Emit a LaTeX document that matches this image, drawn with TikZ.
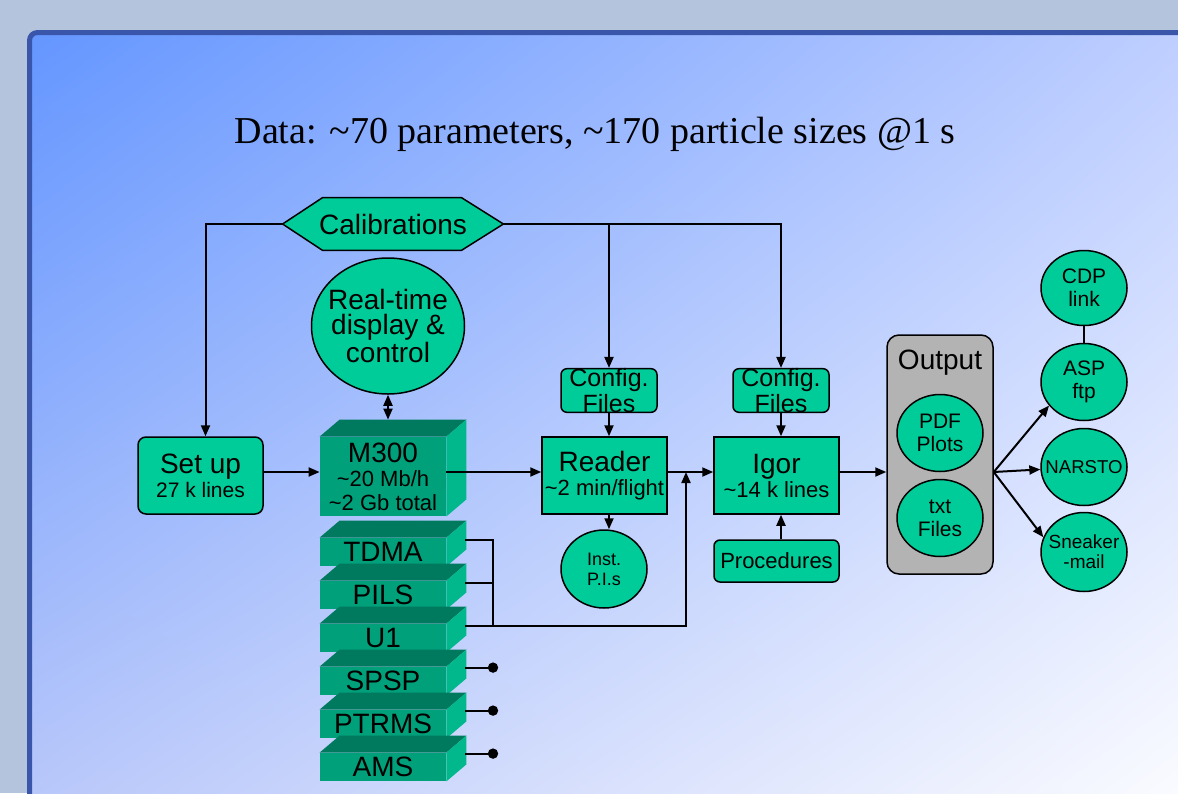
\documentclass[tikz,border=0pt]{standalone}
\usepackage{fontspec}
\setmainfont{Liberation Sans}
\newfontfamily\serifface{Liberation Serif}
\usetikzlibrary{arrows.meta,shapes.geometric,calc,shadings}

\definecolor{pagebg}{RGB}{180,196,220}
\definecolor{panelrim}{RGB}{58,86,170}
\definecolor{panelA}{RGB}{100,150,255}
\definecolor{panelB}{RGB}{190,206,255}
\definecolor{panelC}{RGB}{184,199,250}
\definecolor{panelD}{RGB}{250,251,255}
\definecolor{mint}{RGB}{0,204,153}
\definecolor{crateFront}{RGB}{0,160,122}
\definecolor{crateTop}{RGB}{0,122,94}
\definecolor{crateSide}{RGB}{0,184,140}
\definecolor{trayGrey}{RGB}{179,179,179}

% type sizes
\newcommand\szA{\fontsize{14}{12}\selectfont}
\newcommand\szAloose{\fontsize{14}{12.6}\selectfont}
\newcommand\szB{\fontsize{11}{12}\selectfont}
\newcommand\szC{\fontsize{10.5}{12}\selectfont}
\newcommand\szCfg{\fontsize{12.5}{11.5}\selectfont}
\newcommand\szSmall{\fontsize{10.5}{11.5}\selectfont}
\newcommand\szTiny{\fontsize{9.3}{10}\selectfont}

% top and side faces of a block whose front face is node #1
\newcommand\crateFaces[1]{%
  \fill[crateTop] (#1.north west) -- ++(20,-17) -- ($(#1.north east)+(20,-17)$) -- (#1.north east) -- cycle;
  \fill[crateSide] (#1.north east) -- ++(20,-17) -- ($(#1.south east)+(20,-17)$) -- (#1.south east) -- cycle;}

\begin{document}
\begin{tikzpicture}[x=0.5pt,y=-0.5pt,
  conn/.style={line width=1pt},
  arr/.style={conn,-{Triangle[length=5.5pt,width=4.5pt]}},
  box/.style={draw, line width=0.75pt, fill=mint, inner sep=0pt, align=center},
  rbox/.style={box, rounded corners=4pt},
  disc/.style={box, ellipse},
  crate/.style={fill=crateFront, inner sep=0pt, align=center, minimum width=63pt},
  lbl/.style={align=center, inner sep=0pt}
]
\useasboundingbox (0,0) rectangle (1178,793);
\clip (0,0) rectangle (1178,793);

% backdrop and slide panel
\fill[pagebg] (0,0) rectangle (1178,793);
\shade[upper left=panelA, upper right=panelB, lower left=panelC, lower right=panelD]
  (30,33) rectangle (1178,793);
\draw[panelrim, line width=2.5pt, rounded corners=4pt] (29.5,32.5) rectangle (1210,830);

% heading
\node[font=\serifface\fontsize{19}{22}\selectfont, anchor=base, inner sep=0pt] (headline) at (595,143)
  {Data: \textasciitilde70 parameters, \textasciitilde170 particle sizes @1 s};

% calibrations hexagon
\node[minimum width=110pt, minimum height=26pt, inner sep=0pt] (cal) at (393,224) {};
\filldraw[fill=mint, line width=0.75pt] (cal.west) -- ($(cal.north west)+(40,0)$)
  -- ($(cal.north east)+(-42,0)$) -- (cal.east) -- ($(cal.south east)+(-42,0)$)
  -- ($(cal.south west)+(40,0)$) -- cycle;
\node[lbl, font=\szA] (cal-t) at (cal) {Calibrations};

% real-time display
\node[disc, minimum width=76.5pt, minimum height=68pt] (rt) at (388,326) {};
\node[lbl, font=\szAloose] (rt-t) at (rt) {Real-time\\display \&\\control};

% set up
\node[rbox, minimum width=62.5pt, minimum height=38.5pt, font=\szA] (setup) at (200.5,475.5)
  {Set up\\\szC 27 k lines};
\coordinate (setup-in) at ($(setup.north)+(5,0)$);

% M300 block
\node[crate, minimum height=39.5pt, font=\szA] (m300) at (383,476.5)
  {M300\\\szB\textasciitilde20 Mb/h\\\szB\textasciitilde2 Gb total};
\crateFaces{m300}
\coordinate (m300top) at ($(m300.north)+(5,-17)$);

% instrument stack
\foreach \nm/\lab/\yy in {tdma/TDMA/552,pils/PILS/595,u1/U1/638,spsp/SPSP/681,ptrms/PTRMS/724,ams/AMS/767}{
  \node[crate, minimum height=14pt, font=\szA] (\nm) at (383,\yy) {\lab};
  \crateFaces{\nm}
}

% reader and igor
\node[box, minimum width=62.5pt, minimum height=38.5pt, font=\szA] (reader) at (604.5,475.5)
  {Reader\\\szB\textasciitilde2 min/flight};
\node[box, minimum width=62.5pt, minimum height=38.5pt, font=\szA] (igor) at (776.5,475.5)
  {Igor\\\szB\textasciitilde14 k lines};
\node[box, rounded corners=3pt, minimum width=48pt, minimum height=21.5pt, font=\szCfg] (cfg1) at (609,390.5)
  {Config.\\Files};
\node[box, rounded corners=3pt, minimum width=48pt, minimum height=21.5pt, font=\szCfg] (cfg2) at (781,390.5)
  {Config.\\Files};
\node[rbox, rounded corners=3pt, minimum width=62.5pt, minimum height=21pt, font=\szB] (proc) at (776.5,561)
  {Procedures};
\node[disc, minimum width=43pt, minimum height=39pt] (inst) at (604,569) {};
\node[lbl, font=\fontsize{9}{10}\selectfont] (inst-t) at (inst) {Inst.\\P.I.s};

% output tray
\node[draw, fill=trayGrey, rounded corners=6pt, line width=0.75pt, minimum width=53pt,
  minimum height=119.5pt, inner sep=0pt] (out) at (940,454.5) {};
\node[lbl, font=\szA, anchor=base] (out-t) at (940,369) {Output};
\node[disc, minimum width=43pt, minimum height=38.5pt] (pdf) at (940,433) {};
\node[lbl, font=\szSmall] (pdf-t) at (pdf) {PDF\\Plots};
\node[disc, minimum width=43pt, minimum height=38.5pt] (txt) at (940,518) {};
\node[lbl, font=\szSmall] (txt-t) at (txt) {txt\\Files};

% destinations
\node[disc, minimum width=43pt, minimum height=37.5pt] (cdp) at (1084,288) {};
\node[lbl, font=\szSmall] (cdp-t) at (cdp) {CDP\\link};
\node[disc, minimum width=43pt, minimum height=38.5pt] (asp) at (1084,382) {};
\node[lbl, font=\szSmall] (asp-t) at (asp) {ASP\\ftp};
\node[disc, minimum width=43pt, minimum height=38.5pt] (narsto) at (1084,467) {};
\node[lbl, font=\szTiny] (narsto-t) at (narsto) {NARSTO};
\node[disc, minimum width=43pt, minimum height=39.5pt] (snk) at (1084,552) {};
\node[lbl, font=\fontsize{9.5}{10}\selectfont] (snk-t) at (snk) {Sneaker\\-mail};

% connectors
\coordinate (axis) at (0,472);
\coordinate (bus) at (493,0);
\coordinate (riser) at (686,0);

\draw[arr] (cal.west) -| (setup-in);
\draw[arr] (cal.east) -| (cfg2.north);
\draw[arr] (cfg1.north |- cal.east) -- (cfg1.north);
\draw[conn,{Triangle[length=5.5pt,width=4.5pt]}-{Triangle[length=5.5pt,width=4.5pt]}]
  (rt.south) -- (rt.south |- m300top);

\draw[arr] (setup.east |- axis) -- (m300.west |- axis);
\draw[arr] (m300.east |- axis) -- (reader.west |- axis);
\draw[arr] (reader.east |- axis) -- (igor.west |- axis);
\draw[arr] (igor.east |- axis) -- (out.west |- axis);

\draw[arr] (cfg1.south) -- (cfg1.south |- reader.north);
\draw[arr] (cfg1.south |- reader.south) -- (cfg1.south |- inst.north);
\draw[arr] (cfg2.south) -- (cfg2.south |- igor.north);
\draw[arr] (cfg2.south |- proc.north) -- (cfg2.south |- igor.south);

% instrument links
\coordinate (tdmaO) at ($(tdma.north east)+(19,2)$);
\coordinate (pilsO) at ($(pils.north east)+(19,2)$);
\coordinate (u1O) at ($(u1.north east)+(19,2)$);
\draw[conn] (tdmaO) -| (bus |- u1O);
\draw[conn] (pilsO) -- (bus |- pilsO);
\draw[arr] (u1O) -| (riser |- axis);
\foreach \nm in {spsp,ptrms,ams}{
  \coordinate (\nm-from) at ($(\nm.north east)+(19,1)$);
  \draw[conn] (\nm-from) -- (bus |- \nm-from) coordinate (\nm-dot);
  \fill (\nm-dot) circle[radius=2.6pt];
}

% distribution
\coordinate (fan) at (out.east |- axis);
\draw[arr] (fan) -- (asp.214);
\draw[arr] (fan) -- (narsto);
\draw[arr] (fan) -- (snk.160);
\draw[conn] (cdp) -- (asp);
\end{tikzpicture}
\end{document}
